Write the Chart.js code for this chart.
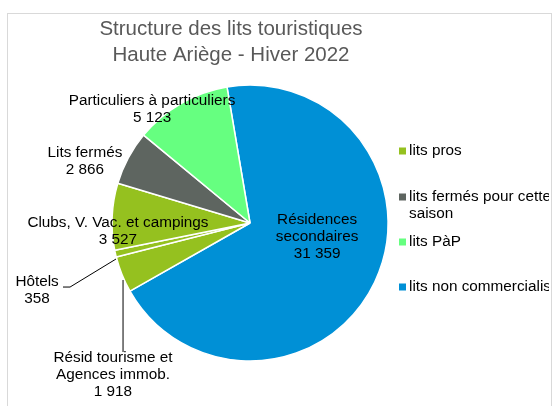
<!DOCTYPE html>
<html><head><meta charset="utf-8">
<script src="https://cdn.jsdelivr.net/npm/chart.js@4"></script>
<style>html,body{margin:0;padding:0;background:#fff;overflow:hidden}</style>
</head><body><canvas id="c" width="553" height="406"></canvas>
<script>
// ---- data ----
const titleLines = ["Structure des lits touristiques", "Haute Ariège - Hiver 2022"];
const categories = ["Résidences secondaires", "Résid tourisme et Agences immob.", "Hôtels", "Clubs, V. Vac. et campings", "Lits fermés", "Particuliers à particuliers"];
const labelLines = [["Résidences", "secondaires"], ["Résid tourisme et", "Agences immob."], ["Hôtels"], ["Clubs, V. Vac. et campings"], ["Lits fermés"], ["Particuliers à particuliers"]];
const values = [31359, 1918, 358, 3527, 2866, 5123];
const sliceGroup = [3, 0, 0, 0, 1, 2];
const legendLabels = [["lits pros"], ["lits fermés pour cette", "saison"], ["lits PàP"], ["lits non commercialisés"]];
const groupColors = ["#95c11f", "#5e6560", "#66ff80", "#0090d6"];

// ---- label layout (relative to pie centre, in pie radii) ----
const labelPos = [[0.486, 0.10], [-0.993, 1.10], [-1.543, 0.486], [-0.957, 0.062], [-1.196, -0.446], [-0.71, -0.826]];
const leaders = {1: [[-0.920, 0.413], [-0.920, 0.935]], 2: [[-0.971, 0.261], [-1.304, 0.464], [-1.355, 0.464]]};

const fmt = v => String(v).replace(/\B(?=(\d{3})+(?!\d))/g, " ");
const FONT = "'Liberation Sans', Arial, sans-serif";

const deco = {
  id: 'deco',
  beforeDraw(chart) {
    const ctx = chart.ctx;
    ctx.save();
    ctx.fillStyle = '#fff';
    ctx.fillRect(0, 0, chart.width, chart.height);
    ctx.strokeStyle = '#d9d9d9';
    ctx.lineWidth = 1;
    ctx.strokeRect(7.5, 13.5, 544, 420);
    ctx.restore();
  },
  afterDraw(chart) {
    const ctx = chart.ctx;
    const arc = chart.getDatasetMeta(0).data[0];
    const cx = arc.x, cy = arc.y, R = arc.outerRadius;
    ctx.save();
    // title
    ctx.fillStyle = '#595959';
    ctx.font = "20.5px " + FONT;
    ctx.textAlign = 'center';
    ctx.textBaseline = 'alphabetic';
    ctx.fillText(titleLines[0], 231, 35);
    ctx.fillText(titleLines[1], 231, 61);
    // data labels
    ctx.fillStyle = '#000';
    ctx.font = "15.3px " + FONT;
    ctx.textBaseline = 'middle';
    const lh = 17;
    values.forEach((v, i) => {
      const lines = labelLines[i].concat([fmt(v)]);
      const x = cx + labelPos[i][0] * R;
      const y = cy + labelPos[i][1] * R;
      const y0 = y - (lines.length - 1) * lh / 2;
      lines.forEach((t, k) => ctx.fillText(t, x, y0 + k * lh));
    });
    // leader lines
    ctx.strokeStyle = '#000';
    ctx.lineWidth = 1;
    Object.keys(leaders).forEach(k => {
      const pts = leaders[k];
      ctx.beginPath();
      pts.forEach((p, j) => {
        const px = cx + p[0] * R, py = cy + p[1] * R;
        if (j === 0) ctx.moveTo(px, py); else ctx.lineTo(px, py);
      });
      ctx.stroke();
    });
    // legend
    ctx.beginPath();
    ctx.rect(0, 0, 549, chart.height);
    ctx.clip();
    ctx.textAlign = 'left';
    ctx.font = "15.3px " + FONT;
    const legY = [151, 197, 242, 287];
    legendLabels.forEach((lines, i) => {
      ctx.fillStyle = groupColors[i];
      ctx.fillRect(399, legY[i] - 3.5, 7, 7);
      ctx.fillStyle = '#000';
      lines.forEach((t, k) => ctx.fillText(t, 409, legY[i] + k * 17));
    });
    ctx.restore();
  }
};

new Chart(document.getElementById('c'), {
  type: 'pie',
  data: {
    labels: categories,
    datasets: [{
      data: values,
      backgroundColor: sliceGroup.map(g => groupColors[g]),
      borderColor: '#ffffff',
      borderWidth: 1.5
    }]
  },
  options: {
    responsive: false,
    animation: false,
    rotation: -9.6,
    radius: 138,
    layout: {padding: {left: 112, right: 165, top: 85, bottom: 45}},
    plugins: {legend: {display: false}, tooltip: {enabled: false}, title: {display: false}}
  },
  plugins: [deco]
});
</script>
</body></html>
